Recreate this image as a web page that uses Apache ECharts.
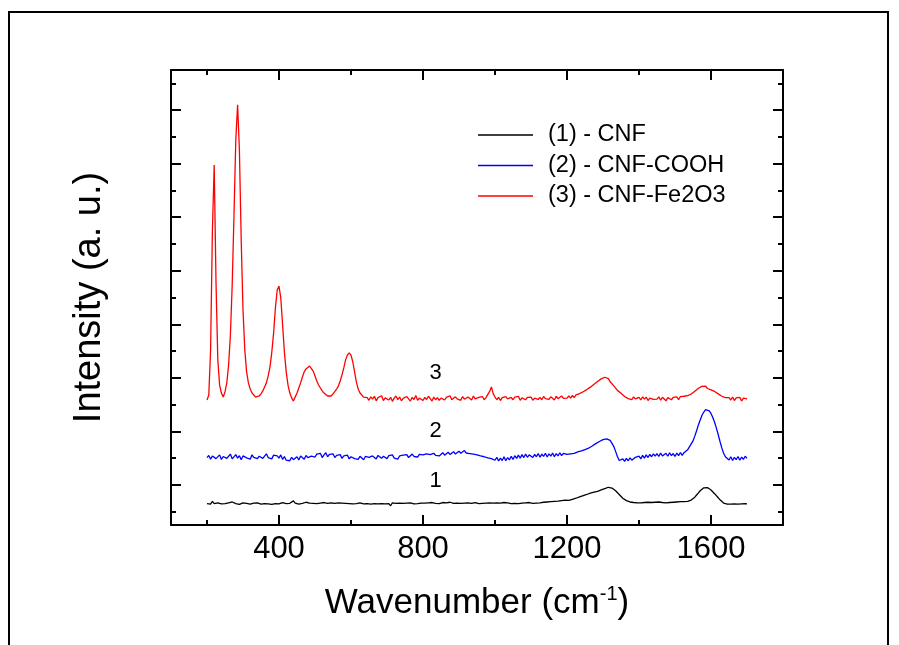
<!DOCTYPE html>
<html>
<head>
<meta charset="utf-8">
<script src="https://cdn.jsdelivr.net/npm/echarts@6/dist/echarts.min.js"></script>
<style>
html,body{margin:0;padding:0;background:#fff;}
#chart{width:899px;height:645px;}
</style>
</head>
<body>
<div id="chart"></div>
<script>
// Raman spectra sampled every 5 cm-1 from 200 to 1700 cm-1
const waveStart = 200;
const waveStep = 5;

const seriesNames = ['(1) - CNF', '(2) - CNF-COOH', '(3) - CNF-Fe2O3'];
const seriesColors = ['#000000', '#0000ff', '#ff0000'];

const cnf = [
1.30,1.34,1.28,1.38,1.30,1.27,1.33,1.31,1.29,1.35,
1.30,1.28,1.33,1.31,1.36,1.29,1.30,1.32,1.27,1.31,
1.33,1.29,1.31,1.34,1.28,1.30,1.32,1.29,1.33,1.30,
1.28,1.32,1.30,1.35,1.29,1.31,1.27,1.32,1.30,1.33,
1.29,1.31,1.34,1.28,1.30,1.36,1.31,1.29,1.40,1.32,
1.30,1.28,1.33,1.31,1.29,1.35,1.30,1.32,1.28,1.31,
1.33,1.30,1.29,1.32,1.30,1.34,1.28,1.31,1.30,1.33,
1.29,1.31,1.28,1.33,1.30,1.32,1.29,1.31,1.34,1.30,
1.32,1.29,1.31,1.30,1.28,1.33,1.31,1.29,1.32,1.30,
1.31,1.28,1.33,1.30,1.32,1.29,1.31,1.30,1.34,1.29,
1.31,1.30,1.22,1.33,1.30,1.31,1.29,1.32,1.30,1.31,
1.29,1.32,1.30,1.33,1.31,1.29,1.35,1.30,1.31,1.32,
1.30,1.32,1.31,1.33,1.30,1.34,1.32,1.31,1.33,1.30,
1.32,1.34,1.31,1.33,1.30,1.35,1.32,1.31,1.34,1.32,
1.33,1.31,1.34,1.32,1.30,1.33,1.35,1.31,1.32,1.34,
1.32,1.30,1.33,1.31,1.34,1.32,1.30,1.33,1.31,1.32,
1.30,1.33,1.31,1.32,1.30,1.34,1.31,1.33,1.32,1.30,
1.32,1.31,1.33,1.30,1.34,1.32,1.31,1.33,1.32,1.34,
1.33,1.31,1.35,1.32,1.34,1.33,1.31,1.35,1.34,1.36,
1.34,1.37,1.35,1.38,1.36,1.39,1.38,1.41,1.40,1.43,
1.40,1.42,1.43,1.46,1.47,1.50,1.52,1.55,1.57,1.60,
1.62,1.64,1.66,1.69,1.71,1.73,1.74,1.76,1.78,1.81,
1.83,1.86,1.88,1.91,1.90,1.88,1.84,1.78,1.71,1.64,
1.57,1.50,1.45,1.41,1.38,1.36,1.35,1.34,1.35,1.33,
1.35,1.33,1.36,1.34,1.32,1.35,1.33,1.34,1.31,1.35,
1.33,1.36,1.32,1.34,1.35,1.33,1.37,1.34,1.33,1.35,
1.34,1.36,1.35,1.37,1.35,1.37,1.36,1.38,1.40,1.43,
1.47,1.54,1.62,1.70,1.78,1.84,1.89,1.91,1.90,1.86,
1.81,1.74,1.67,1.60,1.52,1.44,1.37,1.32,1.30,1.28,
1.27,1.28,1.26,1.29,1.27,1.28,1.26,1.29,1.28,1.30,
1.29
];

const cnfCooh = [
3.02,3.10,2.96,3.08,3.14,2.98,3.05,3.12,2.95,3.06,
3.11,2.99,3.07,3.15,2.97,3.04,3.13,3.00,3.09,2.94,
3.08,3.14,3.01,3.06,2.96,3.12,3.03,3.10,2.98,3.07,
3.13,2.99,3.05,3.16,3.02,3.09,2.97,3.11,3.04,3.08,
3.00,3.12,2.95,3.06,2.92,2.98,2.90,3.03,2.94,2.99,
3.05,2.93,3.08,3.01,2.96,3.10,3.02,2.97,3.07,3.12,
3.04,3.15,3.08,3.18,3.02,3.12,3.20,3.05,3.14,3.09,
3.16,3.02,3.10,3.06,3.13,2.99,3.08,3.03,3.11,2.97,
3.05,3.09,2.98,3.04,2.95,3.07,3.00,2.94,3.06,2.99,
3.03,2.96,3.08,3.01,2.97,3.10,3.04,2.99,3.07,3.02,
2.98,3.09,3.03,3.12,3.00,3.06,2.96,3.08,3.04,3.11,
3.05,3.13,3.02,3.09,3.15,3.06,3.11,3.04,3.14,3.08,
3.12,3.05,3.16,3.09,3.13,3.07,3.18,3.10,3.15,3.08,
3.14,3.20,3.11,3.17,3.22,3.13,3.19,3.24,3.15,3.21,
3.26,3.18,3.23,3.28,3.19,3.25,3.17,3.22,3.15,3.20,
3.12,3.17,3.08,3.13,3.05,3.10,3.01,3.06,2.98,3.03,
2.92,3.03,2.89,3.00,2.91,3.05,2.90,3.02,2.93,3.07,
2.95,3.09,2.99,3.11,3.00,3.13,3.02,3.15,3.03,3.12,
3.16,3.02,3.14,3.05,3.17,3.03,3.15,3.06,3.18,3.04,
3.16,3.07,3.19,3.05,3.17,3.08,3.20,3.09,3.18,3.21,
3.14,3.19,3.16,3.22,3.18,3.25,3.23,3.29,3.27,3.33,
3.32,3.38,3.37,3.44,3.45,3.52,3.54,3.60,3.62,3.66,
3.69,3.74,3.72,3.75,3.66,3.55,3.43,3.25,3.06,2.91,
2.86,2.97,2.88,2.99,2.90,3.01,2.92,2.98,3.03,2.96,
3.07,2.97,3.10,3.00,3.12,3.02,3.14,3.05,3.16,3.07,
3.17,3.06,3.19,3.08,3.05,3.18,3.07,3.20,3.09,3.17,
3.06,3.19,3.09,3.21,3.10,3.20,3.19,3.31,3.35,3.53,
3.64,3.82,4.02,4.24,4.42,4.60,4.72,4.81,4.80,4.76,
4.67,4.52,4.34,4.12,3.88,3.62,3.38,3.18,3.05,2.99,
2.93,3.05,2.91,3.03,2.94,3.06,2.92,3.04,2.95,3.07,
2.99
];

const cnfFe2o3 = [
5.17,5.36,7.04,11.52,13.95,9.58,6.67,5.73,5.43,5.28,
5.47,5.81,6.48,7.60,9.47,12.08,14.89,16.20,14.51,11.15,
8.53,7.04,6.22,5.81,5.58,5.43,5.36,5.28,5.25,5.32,
5.40,5.51,5.66,5.81,6.07,6.41,6.96,7.67,8.61,9.28,
9.43,8.98,7.97,6.96,6.22,5.73,5.43,5.25,5.13,5.28,
5.43,5.62,5.81,6.03,6.22,6.33,6.40,6.44,6.37,6.25,
6.07,5.88,5.73,5.62,5.51,5.43,5.36,5.32,5.28,5.32,
5.40,5.47,5.58,5.69,5.88,6.11,6.37,6.67,6.85,6.93,
6.85,6.59,6.22,5.84,5.58,5.43,5.36,5.28,5.23,5.26,
5.16,5.29,5.20,5.31,5.14,5.26,5.19,5.33,5.15,5.25,
5.30,5.17,5.27,5.12,5.24,5.32,5.18,5.28,5.14,5.23,
5.17,5.30,5.21,5.13,5.27,5.19,5.34,5.16,5.24,5.29,
5.15,5.27,5.19,5.31,5.22,5.13,5.28,5.18,5.26,5.16,
5.24,5.31,5.17,5.27,5.20,5.33,5.18,5.14,5.29,5.21,
5.27,5.16,5.30,5.20,5.13,5.28,5.22,5.17,5.32,5.21,
5.16,5.27,5.20,5.30,5.18,5.26,5.32,5.49,5.66,5.41,
5.28,5.18,5.27,5.15,5.26,5.19,5.30,5.21,5.14,5.27,
5.18,5.28,5.21,5.31,5.16,5.25,5.30,5.18,5.27,5.20,
5.28,5.16,5.24,5.31,5.19,5.27,5.18,5.30,5.22,5.28,
5.19,5.29,5.24,5.17,5.31,5.22,5.27,5.32,5.23,5.29,
5.24,5.32,5.24,5.34,5.26,5.36,5.33,5.41,5.39,5.48,
5.46,5.56,5.55,5.65,5.64,5.76,5.75,5.86,5.87,5.96,
5.93,6.02,5.95,5.97,5.85,5.84,5.70,5.67,5.53,5.50,
5.42,5.38,5.30,5.31,5.22,5.27,5.18,5.29,5.21,5.26,
5.27,5.17,5.29,5.20,5.28,5.15,5.24,5.31,5.19,5.26,
5.20,5.29,5.16,5.27,5.23,5.14,5.26,5.31,5.18,5.27,
5.21,5.29,5.18,5.30,5.23,5.31,5.25,5.33,5.31,5.39,
5.39,5.50,5.49,5.61,5.58,5.68,5.61,5.69,5.60,5.63,
5.55,5.57,5.49,5.50,5.40,5.41,5.31,5.33,5.26,5.29,
5.26,5.17,5.28,5.15,5.25,5.18,5.27,5.13,5.24,5.19,
5.21
];

// axis ticks / labels
const xMajorTicks = [400, 800, 1200, 1600];
const xMinorTicks = [200, 600, 1000, 1400];
const yMajorTicks = [2, 4, 6, 8, 10, 12, 14, 16];
const yMinorTicks = [1, 3, 5, 7, 9, 11, 13, 15, 17];

// curve number annotations: [wavenumber, intensity, text]
const curveTags = [
  [835, 2.14, '1'],
  [835, 4.02, '2'],
  [835, 6.18, '3']
];

const FONT = "'Liberation Sans', Arial, Helvetica, sans-serif";

function toPairs(arr) {
  return arr.map((v, i) => [waveStart + i * waveStep, v]);
}

const allData = [cnf, cnfCooh, cnfFe2o3];

const chart = echarts.init(document.getElementById('chart'), null, {renderer: 'canvas'});

const lineStyleAxis = {color: '#000', width: 2};

function xAx(pos, ticks, len, showLine, withLabel, withName) {
  return {
    type: 'value', min: 100, max: 1800, position: pos,
    axisLine: {show: showLine, onZero: false, lineStyle: lineStyleAxis},
    axisTick: {show: true, inside: true, length: len, customValues: ticks, lineStyle: {color: '#000', width: 2}},
    axisLabel: withLabel ? {show: true, customValues: ticks, color: '#000', fontFamily: FONT, fontSize: 31, margin: 9,
      formatter: (v) => String(v)} : {show: false},
    splitLine: {show: false},
    name: withName ? '{t|Wavenumber (cm}{s|-1}{t|)}' : '',
    nameLocation: 'middle',
    nameGap: 59,
    nameTextStyle: {
      rich: {
        t: {fontFamily: FONT, fontSize: 35, color: '#000'},
        s: {fontFamily: FONT, fontSize: 20, color: '#000', padding: [0, 0, 18, 0]}
      }
    }
  };
}
function yAx(pos, ticks, len, showLine, withName) {
  return {
    type: 'value', min: 0.5, max: 17.5, position: pos,
    axisLine: {show: showLine, onZero: false, lineStyle: lineStyleAxis},
    axisTick: {show: true, inside: true, length: len, customValues: ticks, lineStyle: {color: '#000', width: 2}},
    axisLabel: {show: false},
    splitLine: {show: false},
    name: withName ? 'Intensity (a. u.)' : '',
    nameLocation: 'middle',
    nameGap: 62,
    nameTextStyle: {fontFamily: FONT, fontSize: 38, color: '#000'}
  };
}

const option = {
  animation: false,
  backgroundColor: '#fff',
  grid: {left: 171, top: 70, width: 612, height: 455, containLabel: false},
  legend: {
    left: 473, top: 118,
    orient: 'vertical',
    itemWidth: 55, itemHeight: 1.5, itemGap: 6.5,
    icon: 'rect',
    data: seriesNames,
    textStyle: {fontFamily: FONT, fontSize: 23.5, lineHeight: 24, color: '#000', padding: [0, 0, 0, 10]}
  },
  xAxis: [
    xAx('bottom', xMajorTicks, 10, true, true, true),
    xAx('bottom', xMinorTicks, 5, false, false, false),
    xAx('top', xMajorTicks, 10, true, false, false),
    xAx('top', xMinorTicks, 5, false, false, false)
  ],
  yAxis: [
    yAx('left', yMajorTicks, 10, true, true),
    yAx('left', yMinorTicks, 5, false, false),
    yAx('right', yMajorTicks, 10, true, false),
    yAx('right', yMinorTicks, 5, false, false)
  ],
  graphic: [{
    type: 'rect',
    shape: {x: 9, y: 12, width: 879, height: 700},
    style: {fill: 'none', stroke: '#000', lineWidth: 2},
    silent: true
  }],
  series: seriesNames.map((name, k) => ({
    name: name,
    type: 'line',
    xAxisIndex: 0, yAxisIndex: 0,
    symbol: 'none',
    showSymbol: false,
    color: seriesColors[k],
    lineStyle: {color: seriesColors[k], width: 1.3},
    data: toPairs(allData[k]),
    markPoint: {
      symbol: 'circle', symbolSize: 0,
      label: {show: true, position: 'inside', formatter: '{b}', color: '#000', fontFamily: FONT, fontSize: 22},
      data: [{name: curveTags[k][2], coord: [curveTags[k][0], curveTags[k][1]]}]
    }
  }))
};
chart.setOption(option);
</script>
</body>
</html>
